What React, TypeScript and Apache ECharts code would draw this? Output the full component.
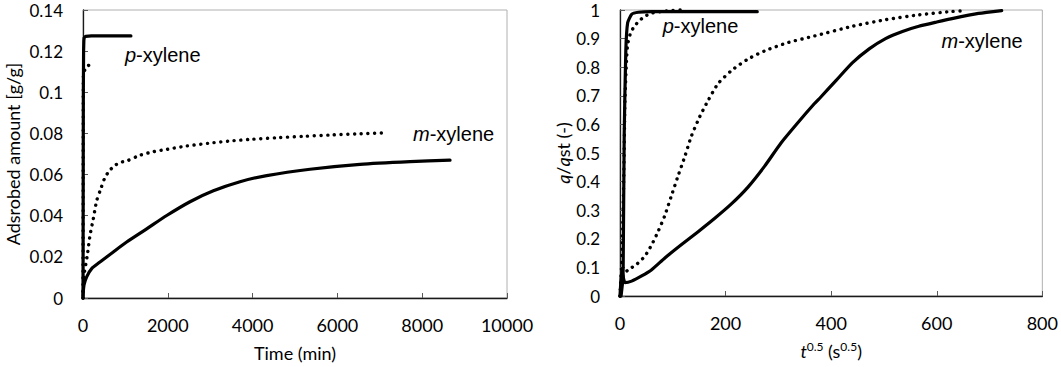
import React, { useEffect, useRef } from "react";
import * as echarts from "echarts";

// ---------- Data ----------
// Left panel: adsorbed amount [g/g] vs time (min)
const leftPSolidT = [0, 4, 8, 14, 20, 26, 60, 200, 500, 800, 1130];
const leftPSolidV = [0, 0.05, 0.1, 0.12, 0.125, 0.1265, 0.1272, 0.1274, 0.1274, 0.1274, 0.1274];

const leftPDotT = [0, 3, 8, 20, 47, 90, 125, 200, 283];
const leftPDotV = [0, 0.05, 0.1077, 0.11, 0.111, 0.1125, 0.113, 0.1135, 0.1136];

const leftMDotT = [0, 10, 24, 102, 165, 243, 323, 418, 519, 621, 755, 900, 1054, 1344, 1658, 1988, 2446, 2955, 3451, 3939, 4568, 5200, 5900, 6500, 7120];
const leftMDotV = [0, 0.006, 0.0111, 0.0208, 0.0304, 0.0385, 0.0473, 0.053, 0.0586, 0.0618, 0.0645, 0.066, 0.0668, 0.0694, 0.0711, 0.0723, 0.0739, 0.0752, 0.0763, 0.0771, 0.0779, 0.0786, 0.0793, 0.0798, 0.0803];

const leftMSolidT = [0, 24, 87, 205, 401, 715, 1030, 1502, 1974, 2524, 3075, 3703, 4332, 5354, 6533, 7712, 8656];
const leftMSolidV = [0.001, 0.0063, 0.0103, 0.0143, 0.0175, 0.0224, 0.0272, 0.0336, 0.0401, 0.0468, 0.0521, 0.0565, 0.0595, 0.0626, 0.065, 0.0663, 0.067];

// Right panel: q/qst (-) vs t^0.5 (s^0.5)
const rightPSolidT = [2, 5, 6, 8, 11, 14.5, 22, 35, 60, 120, 200, 260];
const rightPSolidV = [0, 0.05, 0.1, 0.57, 0.857, 0.955, 0.985, 0.992, 0.994, 0.994, 0.994, 0.994];

const rightPDotT = [0, 4, 7, 9.4, 12.6, 14.5, 19, 25, 35, 47, 60, 79, 95, 115];
const rightPDotV = [0, 0.15, 0.4, 0.684, 0.834, 0.88, 0.914, 0.937, 0.96, 0.978, 0.989, 0.995, 0.998, 1.0];

const rightMDotT = [0, 2, 6, 16, 31, 47, 60, 72, 85, 97.5, 110, 123, 135, 151, 167, 185.5, 211, 242, 274, 318, 368, 440, 503, 566, 629, 654];
const rightMDotV = [0, 0.04, 0.075, 0.092, 0.11, 0.139, 0.179, 0.225, 0.282, 0.351, 0.42, 0.489, 0.558, 0.627, 0.684, 0.742, 0.788, 0.828, 0.857, 0.886, 0.909, 0.943, 0.966, 0.983, 0.995, 0.997];

const rightMSolidT = [0, 2, 4, 9.4, 22, 41, 60, 85, 116, 148, 179, 211, 242, 274, 305, 336, 368, 380, 409, 440, 472, 503, 535, 566, 600, 629, 679, 723];
const rightMSolidV = [0, 0.06, 0.087, 0.047, 0.052, 0.07, 0.092, 0.133, 0.179, 0.225, 0.271, 0.322, 0.38, 0.454, 0.535, 0.604, 0.672, 0.695, 0.753, 0.815, 0.864, 0.9, 0.925, 0.943, 0.958, 0.97, 0.988, 0.998];

// Axis ranges / ticks
const leftX = { min: 0, max: 10000, interval: 2000 };
const leftY = { min: 0, max: 0.14, interval: 0.02 };
const rightX = { min: 0, max: 800, interval: 200 };
const rightY = { min: 0, max: 1, interval: 0.1 };

// Annotation labels (data coordinates)
const labels = [
  { grid: 0, at: [990, 0.118], text: "{i|p}-xylene" },
  { grid: 0, at: [7783, 0.0797], text: "{i|m}-xylene" },
  { grid: 1, at: [81, 0.943], text: "{i|p}-xylene" },
  { grid: 1, at: [609, 0.891], text: "{i|m}-xylene" },
];

const zip = (a: number[], b: number[]) => a.map((x, i) => [x, b[i]]);

const AXIS_FONT = "Lato, 'Open Sans', sans-serif";
const LABEL_FONT = "'Liberation Sans', Arial, sans-serif";

export default function App() {
  const ref = useRef<HTMLDivElement>(null);

  useEffect(() => {
    document.body.style.margin = "0";
    const chart = echarts.init(ref.current!, undefined, { renderer: "svg" });

    const plain = (v: number) => String(+v.toFixed(6));

    const axisCommon = {
      axisLine: { show: true, onZero: false, lineStyle: { color: "#1a1a1a", width: 1.3 } },
      axisTick: { show: true, inside: true, length: 5, lineStyle: { color: "#595959", width: 1 } },
      splitLine: { show: false },
      axisLabel: { color: "#000", fontSize: 18, fontFamily: AXIS_FONT, formatter: plain },
      nameLocation: "middle" as const,
      nameTextStyle: { color: "#000", fontSize: 18, fontFamily: AXIS_FONT },
    };

    const solid = { color: "#000", width: 3.2, type: "solid" as const, cap: "round" as const, join: "round" as const };
    const dotted = { color: "#000", width: 3.4, type: [0.1, 6.6], cap: "round" as const };

    const mk = (name: string, t: number[], v: number[], idx: number, style: any, smooth: number | boolean) => ({
      type: "line",
      name,
      xAxisIndex: idx,
      yAxisIndex: idx,
      data: zip(t, v),
      showSymbol: false,
      symbol: "none",
      smooth,
      clip: false,
      lineStyle: style,
    });

    const option: any = {
      animation: false,
      backgroundColor: "#fff",
      grid: [
        { left: 83, top: 10, width: 424, height: 288, show: true, borderColor: "#b0b0b0", borderWidth: 1 },
        { left: 620, top: 10, width: 424, height: 288, show: true, borderColor: "#b0b0b0", borderWidth: 1 },
      ],
      xAxis: [
        {
          ...axisCommon,
          gridIndex: 0,
          type: "value",
          ...leftX,
          name: "Time (min)",
          nameGap: 46,
          axisLabel: { ...axisCommon.axisLabel, margin: 18 },
        },
        {
          ...axisCommon,
          gridIndex: 1,
          type: "value",
          ...rightX,
          name: "{it|t}{sup|0.5} (s{sup|0.5})",
          nameGap: 44,
          nameTextStyle: {
            ...axisCommon.nameTextStyle,
            lineHeight: 22,
            rich: {
              it: { fontStyle: "italic", fontSize: 18, fontFamily: AXIS_FONT, color: "#000", lineHeight: 22 },
              sup: { fontSize: 12, fontFamily: AXIS_FONT, color: "#000", verticalAlign: "top", lineHeight: 14 },
            },
          },
          axisLabel: { ...axisCommon.axisLabel, margin: 18 },
        },
      ],
      yAxis: [
        {
          ...axisCommon,
          gridIndex: 0,
          type: "value",
          ...leftY,
          name: "Adsrobed amount [g/g]",
          nameGap: 61,
          axisLabel: { ...axisCommon.axisLabel, fontSize: 17, margin: 20 },
        },
        {
          ...axisCommon,
          gridIndex: 1,
          type: "value",
          ...rightY,
          name: "{it|q}/{it|q}st (-)",
          nameGap: 44,
          nameTextStyle: {
            ...axisCommon.nameTextStyle,
            rich: {
              it: { fontStyle: "italic", fontSize: 18, fontFamily: AXIS_FONT, color: "#000" },
            },
          },
          axisLabel: { ...axisCommon.axisLabel, fontSize: 17, margin: 20 },
        },
      ],
      series: [
        mk("p-xylene solid", leftPSolidT, leftPSolidV, 0, solid, false),
        mk("p-xylene dotted", leftPDotT, leftPDotV, 0, dotted, 0.2),
        mk("m-xylene dotted", leftMDotT, leftMDotV, 0, dotted, 0.25),
        mk("m-xylene solid", leftMSolidT, leftMSolidV, 0, solid, 0.25),
        mk("p-xylene solid (r)", rightPSolidT, rightPSolidV, 1, solid, 0.15),
        mk("p-xylene dotted (r)", rightPDotT, rightPDotV, 1, dotted, 0.15),
        mk("m-xylene dotted (r)", rightMDotT, rightMDotV, 1, dotted, 0.2),
        mk("m-xylene solid (r)", rightMSolidT, rightMSolidV, 1, solid, 0.2),
      ],
    };

    chart.setOption(option);

    const graphic = labels.map((l) => {
      const p = chart.convertToPixel({ gridIndex: l.grid } as any, l.at) as number[];
      return {
        type: "text",
        x: p[0],
        y: p[1],
        style: {
          text: l.text,
          fill: "#000",
          fontSize: 20,
          fontFamily: LABEL_FONT,
          align: "left",
          verticalAlign: "middle",
          rich: {
            i: { fontStyle: "italic", fontSize: 20, fontFamily: LABEL_FONT, fill: "#000" },
          },
        },
      };
    });
    chart.setOption({ graphic });

    return () => chart.dispose();
  }, []);

  return (
    <div
      ref={ref}
      style={{ position: "absolute", left: 0, top: 0, width: 1061, height: 367, background: "#fff" }}
    />
  );
}
